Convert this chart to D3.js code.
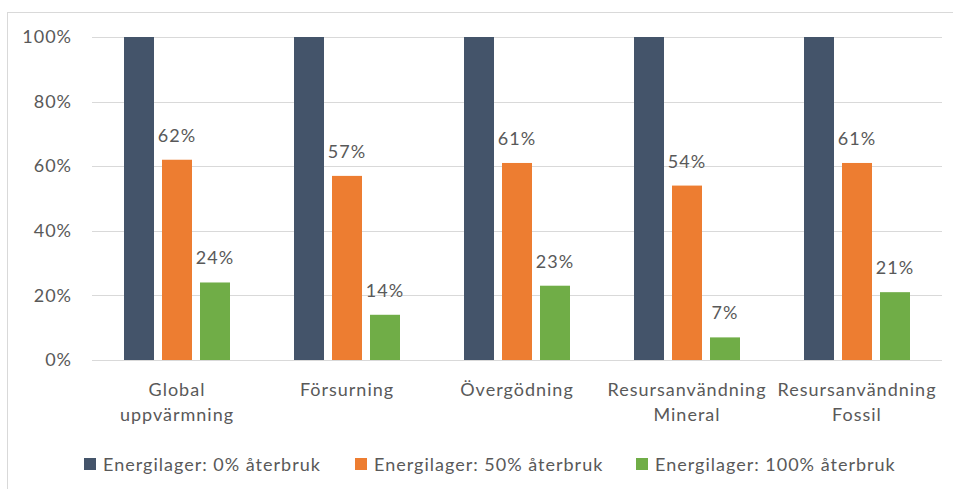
<!DOCTYPE html>
<html>
<head>
<meta charset="utf-8">
<script src="https://cdn.jsdelivr.net/npm/d3@7"></script>
<style>
  body { margin: 0; background: #fff; }
  text { font-family: Lato, "Open Sans", sans-serif; fill: #595959; letter-spacing: 1px; }
</style>
</head>
<body>
<div id="wrapper"></div>
<script>
// data
const categories = [
  ["Global", "uppvärmning"],
  ["Försurning"],
  ["Övergödning"],
  ["Resursanvändning", "Mineral"],
  ["Resursanvändning", "Fossil"],
]
const seriesNames = [
  "Energilager: 0% återbruk",
  "Energilager: 50% återbruk",
  "Energilager: 100% återbruk",
]
const reuse0 = [100, 100, 100, 100, 100]
const reuse50 = [62, 57, 61, 54, 61]
const reuse100 = [24, 14, 23, 7, 21]
const yTicks = [0, 20, 40, 60, 80, 100]
const colors = ["#44546a", "#ed7d31", "#70ad47"]

function drawChart() {
  const dimensions = {
    width: 953,
    height: 489,
    margin: { top: 37, right: 11, bottom: 129, left: 92 },
  }
  dimensions.boundedWidth = dimensions.width - dimensions.margin.left - dimensions.margin.right
  dimensions.boundedHeight = dimensions.height - dimensions.margin.top - dimensions.margin.bottom

  const wrapper = d3.select("#wrapper")
    .append("svg")
      .attr("width", dimensions.width)
      .attr("height", dimensions.height)

  // chart border
  wrapper.append("rect")
      .attr("x", 7.5)
      .attr("y", 12.5)
      .attr("width", 960)
      .attr("height", 500)
      .attr("fill", "none")
      .attr("stroke", "#d9d9d9")

  const bounds = wrapper.append("g")
      .attr("transform", `translate(${dimensions.margin.left}, ${dimensions.margin.top})`)

  const yScale = d3.scaleLinear()
    .domain([0, 100])
    .range([dimensions.boundedHeight, 0])

  const xScale = d3.scaleBand()
    .domain(d3.range(categories.length))
    .range([0, dimensions.boundedWidth])

  const barWidth = 30
  const barStep = 38

  // gridlines
  bounds.append("g")
    .selectAll("line")
    .data(yTicks)
    .join("line")
      .attr("x1", 0)
      .attr("x2", dimensions.boundedWidth)
      .attr("y1", d => Math.round(yScale(d)) + 0.5)
      .attr("y2", d => Math.round(yScale(d)) + 0.5)
      .attr("stroke", "#d9d9d9")

  // y axis labels
  const yAxis = bounds.append("g")
    .call(d3.axisLeft(yScale).tickValues(yTicks).tickFormat(d => d + "%").tickSize(0).tickPadding(20))
  yAxis.select(".domain").remove()
  yAxis.selectAll("text")
      .style("font-size", "18px")
      .style("font-family", "Lato, sans-serif")
      .attr("fill", "#595959")

  const series = [reuse0, reuse50, reuse100]

  series.forEach((values, si) => {
    const g = bounds.append("g")
    const xPos = i => xScale(i) + xScale.bandwidth() / 2 + (si - 1) * barStep - barWidth / 2
    g.selectAll("rect")
      .data(values)
      .join("rect")
        .attr("x", (d, i) => xPos(i))
        .attr("y", d => yScale(d))
        .attr("width", barWidth)
        .attr("height", d => dimensions.boundedHeight - yScale(d))
        .attr("fill", colors[si])
    // value labels only on the reduced-energy series
    if (si > 0) {
      g.selectAll("text")
        .data(values)
        .join("text")
          .attr("x", (d, i) => xPos(i) + barWidth / 2)
          .attr("y", d => yScale(d) - 18)
          .attr("text-anchor", "middle")
          .style("font-size", "18px")
          .text(d => d + "%")
    }
  })

  // category labels
  const catLabels = bounds.append("g")
    .attr("transform", `translate(0, ${dimensions.boundedHeight})`)
  categories.forEach((lines, i) => {
    const t = catLabels.append("text")
        .attr("x", xScale(i) + xScale.bandwidth() / 2)
        .attr("y", 36)
        .attr("text-anchor", "middle")
        .style("font-size", "18px")
    lines.forEach((line, li) => {
      t.append("tspan")
          .attr("x", xScale(i) + xScale.bandwidth() / 2)
          .attr("dy", li === 0 ? 0 : 25)
          .text(line)
    })
  })

  // legend
  const legendX = [84, 355, 636]
  const legend = wrapper.append("g")
  seriesNames.forEach((name, i) => {
    legend.append("rect")
        .attr("x", legendX[i])
        .attr("y", 458)
        .attr("width", 12)
        .attr("height", 12)
        .attr("fill", colors[i])
    legend.append("text")
        .attr("x", legendX[i] + 19)
        .attr("y", 471)
        .style("font-size", "18px")
        .text(name)
  })
}
drawChart()
</script>
</body>
</html>
